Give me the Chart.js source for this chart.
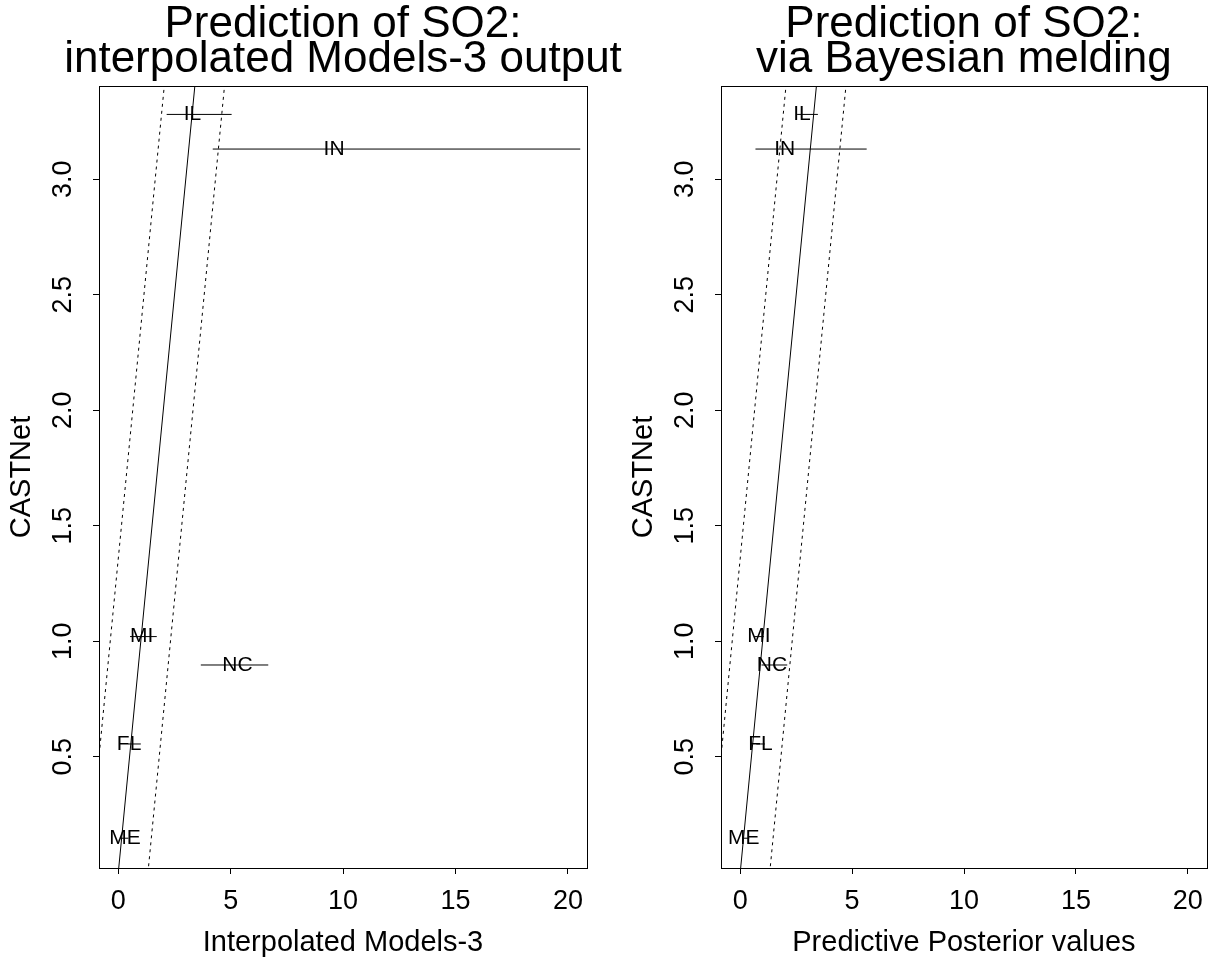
<!DOCTYPE html>
<html><head><meta charset="utf-8">
<script src="https://cdn.jsdelivr.net/npm/chart.js@4.4.1/dist/chart.umd.min.js"></script>
<style>
html,body{margin:0;padding:0;background:#fff;}
#wrap{position:relative;width:1214px;height:962px;overflow:hidden;background:#fff;}
.pane{position:absolute;top:0;height:962px;}
</style></head><body>
<div id="wrap">
<div class="pane" style="left:0;width:660px"><canvas id="c1" width="660" height="962"></canvas></div>
<div class="pane" style="left:622px;width:592px"><canvas id="c2" width="592" height="962"></canvas></div>
</div>
<script>
// ---- data ----
const states = ['IL', 'IN', 'MI', 'NC', 'FL', 'ME'];
const castnet = [3.281, 3.131, 1.02, 0.897, 0.555, 0.147];

// left panel: interpolated Models-3 output
const m3Pred  = [3.30, 9.60, 1.04, 5.30, 0.48, 0.30];
const m3Lower = [2.15, 4.20, 0.52, 3.67, 0.44, 0.08];
const m3Upper = [5.04, 20.55, 1.71, 6.67, 1.00, 0.45];

// right panel: Bayesian melding predictive posterior
const bmPred  = [2.76, 1.99, 0.83, 1.42, 0.90, 0.16];
const bmLower = [2.54, 0.68, 0.62, 0.95, 0.72, 0.09];
const bmUpper = [3.47, 5.65, 1.05, 2.10, 1.10, 0.40];

// reference lines (identity and dotted band)
const lineY      = [-1, 4];
const identityX  = [-1, 4];
const bandLeftX  = [-2.36, 2.64];
const bandRightX = [0.32, 5.32];

// axes
const xTicks = [0, 5, 10, 15, 20];
const yTicks = [0.5, 1.0, 1.5, 2.0, 2.5, 3.0];
const xRange = [-0.86, 20.85];
const yRange = [0.018, 3.404];

const titleLeft  = ['Prediction of SO2:', 'interpolated Models-3 output'];
const titleRight = ['Prediction of SO2:', 'via Bayesian melding'];
const xTitleLeft  = 'Interpolated Models-3';
const xTitleRight = 'Predictive Posterior values';
const yTitle = 'CASTNet';

// ---- rendering ----
const FONT = '"Liberation Sans", Arial, Helvetica, sans-serif';
Chart.defaults.font.family = FONT;
Chart.defaults.color = '#000';

const pts = (xs, ys) => xs.map((x, i) => ({x: x, y: ys[i]}));

const framePlugin = {
  id: 'frameAndText',
  afterDraw(chart, args, opts) {
    const {ctx, chartArea: a} = chart;
    ctx.save();
    ctx.strokeStyle = '#000';
    ctx.lineWidth = 1;
    ctx.strokeRect(Math.round(a.left) + 0.5, Math.round(a.top) + 0.5,
                   Math.round(a.right - a.left), Math.round(a.bottom - a.top));
    // main title
    ctx.fillStyle = '#000';
    ctx.font = '44px ' + FONT;
    ctx.textAlign = 'center';
    ctx.textBaseline = 'alphabetic';
    const cx = (a.left + a.right) / 2;
    ctx.fillText(opts.title[0], cx, 37);
    ctx.fillText(opts.title[1], cx, 72);
    ctx.restore();
  },
  afterDatasetsDraw(chart, args, opts) {
    const {ctx, scales: {x, y}} = chart;
    ctx.save();
    ctx.fillStyle = '#000';
    ctx.font = '21px ' + FONT;
    ctx.textAlign = 'center';
    ctx.textBaseline = 'middle';
    opts.names.forEach((n, i) => {
      ctx.fillText(n, x.getPixelForValue(opts.px[i]), y.getPixelForValue(opts.py[i]));
    });
    ctx.restore();
  }
};

function makeChart(id, padRight, pred, lo, hi, title, xTitle) {
  const datasets = [
    {data: pts(identityX, lineY), borderColor: '#000', borderWidth: 1, showLine: true, pointRadius: 0},
    {data: pts(bandLeftX, lineY), borderColor: '#000', borderWidth: 1, borderDash: [3, 4], showLine: true, pointRadius: 0},
    {data: pts(bandRightX, lineY), borderColor: '#000', borderWidth: 1, borderDash: [3, 4], showLine: true, pointRadius: 0}
  ];
  states.forEach((s, i) => {
    datasets.push({data: pts([lo[i], hi[i]], [castnet[i], castnet[i]]), borderColor: '#000', borderWidth: 1, showLine: true, pointRadius: 0});
  });
  return new Chart(document.getElementById(id), {
    type: 'scatter',
    data: {datasets},
    plugins: [framePlugin],
    options: {
      responsive: false,
      animation: false,
      layout: {padding: {left: 0, right: padRight, top: 86, bottom: 0}},
      plugins: {
        legend: {display: false},
        tooltip: {enabled: false},
        title: {display: false},
        frameAndText: {title: title, names: states, px: pred, py: castnet}
      },
      scales: {
        x: {
          type: 'linear', min: xRange[0], max: xRange[1],
          afterBuildTicks: s => { s.ticks = xTicks.map(v => ({value: v})); },
          afterFit: s => { s.height = 94; },
          border: {display: false},
          grid: {drawOnChartArea: false, drawTicks: true, tickLength: 6, color: '#000', lineWidth: 1},
          ticks: {font: {size: 27, lineHeight: 1.2}, padding: 11, color: '#000', maxRotation: 0, minRotation: 0,
                  callback: v => String(v)},
          title: {display: true, text: xTitle, font: {size: 29, lineHeight: 1.2}, color: '#000', padding: {top: 0, bottom: 2}}
        },
        y: {
          type: 'linear', min: yRange[0], max: yRange[1],
          afterBuildTicks: s => { s.ticks = yTicks.map(v => ({value: v})); },
          afterFit: s => { s.width = 99; },
          border: {display: false},
          grid: {drawOnChartArea: false, drawTicks: true, tickLength: 6, color: '#000', lineWidth: 1},
          ticks: {font: {size: 27, lineHeight: 1.2}, padding: 11, color: '#000', minRotation: 90, maxRotation: 90,
                  crossAlign: 'center', callback: v => Number(v).toFixed(1)},
          title: {display: true, text: yTitle, font: {size: 29, lineHeight: 1.2}, color: '#000', padding: {top: 5, bottom: 0}}
        }
      }
    }
  });
}

makeChart('c1', 73, m3Pred, m3Lower, m3Upper, titleLeft, xTitleLeft);
makeChart('c2', 5, bmPred, bmLower, bmUpper, titleRight, xTitleRight);
</script>
</body></html>
